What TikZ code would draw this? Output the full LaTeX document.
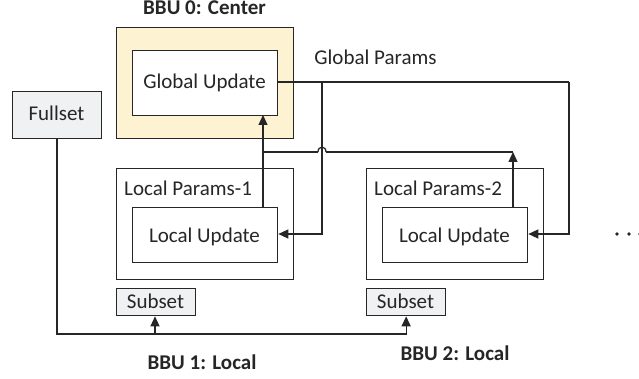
\documentclass[tikz,border=0pt]{standalone}
\usepackage{fontspec}
\setmainfont{Carlito}
\usetikzlibrary{arrows.meta}
\definecolor{cyel}{RGB}{253,242,210}
\definecolor{cgray}{RGB}{240,241,243}
\definecolor{cline}{RGB}{38,38,38}
\begin{document}
\begin{tikzpicture}[x=1pt,y=-1pt,
  box/.style={draw=cline, line width=1.3pt, rectangle, inner sep=0pt, anchor=north west},
  txt/.style={inner sep=0pt, anchor=base, font=\fontsize{21}{25}\selectfont, text=black!85},
  ttl/.style={inner sep=0pt, anchor=base, font=\fontsize{21}{25}\selectfont\bfseries, text=black!85},
  conn/.style={draw=cline, line width=1.3pt},
  arr/.style={conn, -{Triangle[length=10pt,width=9pt]}}]
\useasboundingbox (0,0) rectangle (639,379);
% boxes
\node[box, fill=cyel, minimum width=177pt, minimum height=111pt] (bbu0) at (116,27) {};
\node[box, fill=white, minimum width=145pt, minimum height=65pt] (gu) at (132,50) {};
\node[box, fill=cgray, minimum width=89pt, minimum height=47pt] (full) at (12,91) {};
\node[box, fill=white, minimum width=177pt, minimum height=111pt] (lp1) at (116,168) {};
\node[box, fill=white, minimum width=145pt, minimum height=55pt] (lu1) at (132,207) {};
\node[box, fill=white, minimum width=177pt, minimum height=111pt] (lp2) at (366,168) {};
\node[box, fill=white, minimum width=145pt, minimum height=55pt] (lu2) at (382,207) {};
\node[box, fill=cgray, minimum width=79pt, minimum height=27pt] (sub1) at (116,288) {};
\node[box, fill=cgray, minimum width=79pt, minimum height=27pt] (sub2) at (366,288) {};
% texts
\node[ttl] (t0) at (204.5,15) {BBU 0: Center};
\node[txt] (gut) at (204.5,89) {Global Update};
\node[txt] (fullt) at (56.5,121) {Fullset};
\node[txt] (gp) at (375.5,65) {Global Params};
\node[txt, anchor=base west] (lp1t) at (124,196) {Local Params-1};
\node[txt] (lu1t) at (204.5,242) {Local Update};
\node[txt, anchor=base west] (lp2t) at (374,196) {Local Params-2};
\node[txt] (lu2t) at (454.5,242) {Local Update};
\node[txt] (s1t) at (155.5,308) {Subset};
\node[txt] (s2t) at (405.5,308) {Subset};
\node[ttl] (t1) at (202,369) {BBU 1: Local};
\node[ttl] (t2) at (455,360) {BBU 2: Local};
% coordinates
\coordinate (gpR) at (569,82);
\coordinate (gpR2) at (569,234);
\coordinate (gpM) at (322,82);
\coordinate (gpM2) at (322,234);
\coordinate (u1) at (263,207);
\coordinate (u1t) at (263,115);
\coordinate (u2) at (513,207);
\coordinate (u2t) at (513,152);
\coordinate (j1) at (263,152);
\coordinate (hR) at (326,152);
\coordinate (hL) at (318,152);
\coordinate (f1) at (57,138);
\coordinate (f2) at (57,334);
\coordinate (f3) at (406,334);
\coordinate (f4) at (155,334);
% connectors
\draw[conn] (gu.east |- gpR) -- (gpR);
\draw[arr] (gpR) -- (gpR2) -- (lu2.east |- gpR2);
\draw[arr] (gpM) -- (gpM2) -- (lu1.east |- gpM2);
\draw[arr] (u1) -- (u1t);
\draw[arr] (u2) -- (u2t);
\draw[conn] (u2t) -- (hR);
\draw[conn] (hR) .. controls (326,145.5) and (318,145.5) .. (hL);
\draw[conn] (hL) -- (j1);
\draw[conn] (f1) -- (f2) -- (f3);
\draw[arr] (f3) -- (sub2.south |- f3) -- (sub2.south);
\draw[arr] (f4) -- (sub1.south -| f4);
% ellipsis
\fill[cline] (617,234) circle (1.8) (629,234) circle (1.8) (640,234) circle (1.8);
\end{tikzpicture}
\end{document}
